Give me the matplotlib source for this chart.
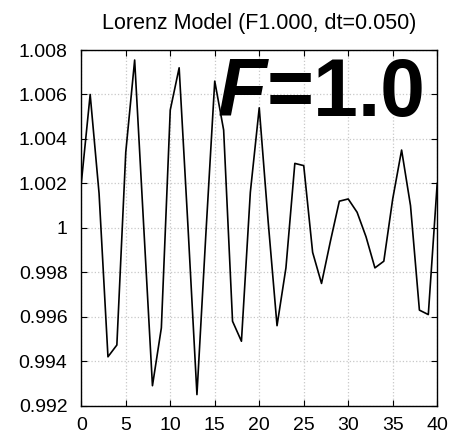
import numpy as np
import matplotlib
matplotlib.use("Agg")
import matplotlib.pyplot as plt
from matplotlib.ticker import FuncFormatter

# time steps and model state (dt = 0.05, F = 1.0)
steps = np.arange(0, 41)
state = [1.0020, 1.0060, 1.00155, 0.9942, 0.99473, 1.0034, 1.00755, 1.0002, 0.9929, 0.9955,
         1.0053, 1.0072, 1.0000, 0.9925, 0.9997, 1.0066, 1.0044, 0.9958, 0.9949, 1.0016,
         1.0054, 1.0003, 0.9956, 0.9982, 1.0029, 1.0028, 0.9989, 0.9975, 0.9994, 1.0012,
         1.0013, 1.0007, 0.9996, 0.9982, 0.9985, 1.0013, 1.0035, 1.0010, 0.9963, 0.9961,
         1.0020]

x_ticks = [0, 5, 10, 15, 20, 25, 30, 35, 40]
y_ticks = [0.992, 0.994, 0.996, 0.998, 1.0, 1.002, 1.004, 1.006, 1.008]
title = "Lorenz Model (F1.000, dt=0.050)"
force_label = "1.0"


def main():
    plt.rcParams['font.family'] = ['Liberation Sans', 'DejaVu Sans']

    fig = plt.figure(figsize=(4.54, 4.41), dpi=100)
    ax = fig.add_axes([0.179, 0.080, 0.784, 0.8066])

    ax.plot(steps, state, color="black", linewidth=1.2)

    ax.set_xlim(0, 40)
    ax.set_ylim(0.992, 1.008)
    ax.set_xticks(x_ticks)
    ax.set_yticks(y_ticks)
    ax.yaxis.set_major_formatter(FuncFormatter(lambda v, p: "%g" % round(v, 6)))
    ax.tick_params(direction="in", top=True, right=True, length=4,
                   labelsize=14, width=0.8)
    ax.tick_params(axis="y", pad=10)
    ax.tick_params(axis="x", pad=8)
    ax.grid(True, color="#c8c8c8", linestyle=":", linewidth=0.9)
    for s in ax.spines.values():
        s.set_linewidth(1.0)

    ax.set_title(title, fontsize=15.5, pad=15)

    # big forcing label in the top-right corner
    num = ax.text(0.966, 0.815, "=" + force_label, transform=ax.transAxes,
                  ha="right", va="baseline", fontsize=58, fontweight="bold")
    ax.annotate("F", xy=(0, 0), xycoords=num, ha="right", va="bottom",
                fontsize=58, fontweight="bold", fontstyle="italic")

    fig.savefig("out.png", dpi=100)


if __name__ == "__main__":
    main()
